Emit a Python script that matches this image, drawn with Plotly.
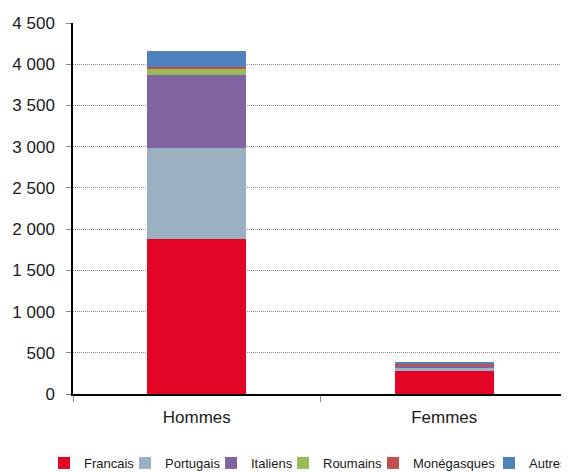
import plotly.graph_objects as go

categories = ["Hommes", "Femmes"]
series_names = ["Francais", "Portugais", "Italiens", "Roumains", "Monégasques", "Autres"]
francais = [1880, 280]
portugais = [1105, 35]
italiens = [885, 25]
roumains = [80, 10]
monegasques = [20, 20]
autres = [190, 15]
colors = ["#E30526", "#9BB1C2", "#8064A2", "#9BBB59", "#C0504D", "#4F81BD"]
y_ticks = [0, 500, 1000, 1500, 2000, 2500, 3000, 3500, 4000, 4500]

values = [francais, portugais, italiens, roumains, monegasques, autres]

# page is shown with an 8px body margin; figure coords = screen coords - 8
OFF = 8
L, R, T, B = 65, 9, 15, 86
W, H = 569, 472
plot_w = W - L - R
plot_h = H - T - B

# screen x where each legend label text starts, and legend row centre
legend_text_x = [84, 165, 251, 323, 413, 529]
legend_center_y = 463

fig = go.Figure()
layout_legends = {}
for i, (name, vals, col) in enumerate(zip(series_names, values, colors)):
    key = "legend" if i == 0 else f"legend{i + 1}"
    fig.add_trace(go.Bar(x=categories, y=vals, name=name, legend=key,
                         marker=dict(color=col, line=dict(width=0))))
    box_left = legend_text_x[i] - OFF - 40
    layout_legends[key] = dict(
        orientation="h", x=(box_left - L) / plot_w, xanchor="left",
        y=-((legend_center_y - OFF) - (T + plot_h)) / plot_h,
        yanchor="middle", font=dict(size=13, color="#1a1a1a"), itemwidth=30,
        bgcolor="rgba(0,0,0,0)", borderwidth=0,
    )

fig.update_layout(
    barmode="stack",
    bargap=0.6,
    width=W, height=H,
    margin=dict(l=L, r=R, t=T, b=B, autoexpand=False),
    plot_bgcolor="white", paper_bgcolor="white",
    separators=", ",
    font=dict(family="Liberation Sans, Arial, sans-serif", size=17, color="#1a1a1a"),
    showlegend=True,
    **layout_legends,
)
fig.update_yaxes(range=[0, 4500], tickvals=y_ticks, tickformat=",d",
                 showgrid=True, gridcolor="#8a8a8a", griddash="1px,1px", gridwidth=1,
                 showline=True, linecolor="black", linewidth=1.5,
                 ticks="outside", ticklen=5, tickcolor="#888888", tickwidth=1,
                 ticklabelstandoff=8, zeroline=False)
fig.update_xaxes(showline=True, linecolor="black", linewidth=1.5,
                 ticks="outside", ticklen=6, tickcolor="#888888", tickwidth=1,
                 tickson="boundaries", ticklabelstandoff=7)
fig.write_html("out.html")
